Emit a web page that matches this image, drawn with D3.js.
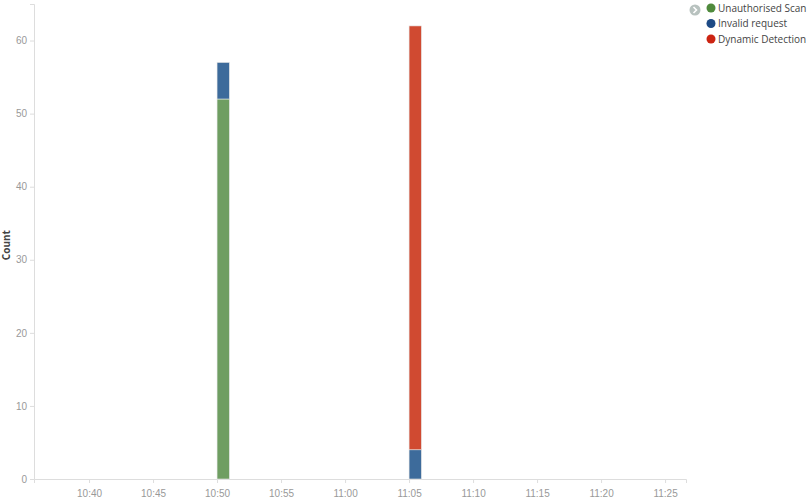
<!DOCTYPE html>
<html>
<head>
<meta charset="utf-8">
<script src="https://cdn.jsdelivr.net/npm/d3@7"></script>
<style>
  body { margin: 0; background: #fff; }
  svg { font-family: "Open Sans", sans-serif; }
  .axis path, .axis line { stroke: #ddd; }
  .axis text { fill: #999; font-size: 10px; }
</style>
</head>
<body>
<svg id="chart" width="810" height="503"></svg>
<script>
// bucket start times (1 minute interval)
var buckets = ["10:50", "11:05"];
var series = ["Unauthorised Scan", "Invalid request", "Dynamic Detection"];
var scanCounts = [52, 0];
var invalidCounts = [5, 4];
var dynamicCounts = [0, 58];
var xTicks = ["10:40", "10:45", "10:50", "10:55", "11:00", "11:05", "11:10", "11:15", "11:20", "11:25"];
var yTicks = [0, 10, 20, 30, 40, 50, 60];

var barColors = ["#6f9e62", "#3d6b9b", "#d04a31"];
var dotColors = ["#4f8a3c", "#1d4a85", "#cc2412"];

function t(s) { return new Date("2020-01-01T" + s + ":00Z"); }

var svg = d3.select("#chart");
var margin = {left: 34, top: 4, right: 124, bottom: 24};
var W = 810, H = 503;

var x = d3.scaleUtc()
    .domain([new Date("2020-01-01T10:35:42Z"), new Date("2020-01-01T11:26:38Z")])
    .range([margin.left, W - margin.right]);
var y = d3.scaleLinear()
    .domain([0, 65])
    .range([H - margin.bottom, margin.top]);

// axes
var xAxis = svg.append("g")
    .attr("class", "axis")
    .attr("transform", "translate(0," + (H - margin.bottom) + ")")
    .call(d3.axisBottom(x)
        .tickValues(xTicks.map(t))
        .tickFormat(d3.utcFormat("%H:%M"))
        .tickSizeOuter(6)
        .tickSize(4));
xAxis.selectAll("text").attr("dy", "1.1em");

var yAxis = svg.append("g")
    .attr("class", "axis")
    .attr("transform", "translate(" + margin.left + ",0)")
    .call(d3.axisLeft(y)
        .tickValues(yTicks)
        .tickSizeOuter(4)
        .tickSize(4));

svg.append("text")
    .attr("transform", "translate(6," + y(32) + ") rotate(-90)")
    .attr("text-anchor", "middle")
    .attr("dy", "0.35em")
    .attr("fill", "#444")
    .attr("font-size", 10)
    .attr("font-weight", "bold")
    .text("Count");

// stacked bars
var rows = buckets.map(function(b, i) {
    return {time: t(b), s0: scanCounts[i], s1: invalidCounts[i], s2: dynamicCounts[i]};
});
var stack = d3.stack().keys(["s0", "s1", "s2"]);
var layers = stack(rows);
var barW = x(t("10:51")) - x(t("10:50")) - 0.5;

svg.append("g").selectAll("g")
    .data(layers)
    .enter()
    .append("g")
    .attr("fill", function(d, i) { return barColors[i]; })
    .selectAll("rect")
    .data(function(d) { return d.filter(function(p) { return p[1] > p[0]; }); })
    .enter()
    .append("rect")
    .attr("x", function(d) { return x(d.data.time); })
    .attr("y", function(d) { return y(d[1]); })
    .attr("width", barW)
    .attr("height", function(d) { return y(d[0]) - y(d[1]); })
    .attr("stroke", "#e6e6e6")
    .attr("stroke-width", 0.6);

// legend
var legend = svg.append("g");
legend.append("circle")
    .attr("cx", 695).attr("cy", 10).attr("r", 5.5)
    .attr("fill", "#b8c2bf");
legend.append("path")
    .attr("d", "M693.5,7 L696.5,10 L693.5,13")
    .attr("fill", "none").attr("stroke", "#fff").attr("stroke-width", 1.6);

var items = legend.selectAll(".item")
    .data(series)
    .enter()
    .append("g")
    .attr("class", "item")
    .attr("transform", function(d, i) { return "translate(711," + (8 + i * 15.5) + ")"; });
items.append("circle")
    .attr("r", 4.5)
    .attr("fill", function(d, i) { return dotColors[i]; });
items.append("text")
    .attr("x", 7)
    .attr("dy", "0.35em")
    .attr("font-size", 10)
    .attr("fill", "#444")
    .text(function(d) { return d; });
</script>
</body>
</html>
